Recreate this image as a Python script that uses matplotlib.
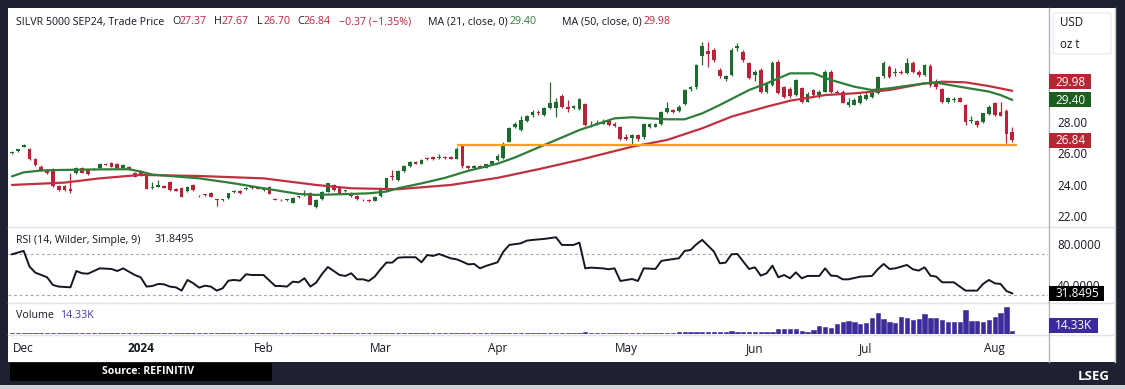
import matplotlib
matplotlib.use('Agg')
import matplotlib.pyplot as plt
from matplotlib.patches import Rectangle, FancyBboxPatch
from matplotlib.lines import Line2D
import numpy as np
import pandas as pd

plt.rcParams['font.family'] = ['Open Sans', 'DejaVu Sans']

# ---------------- data ----------------
START = '2023-11-29'
END = '2024-08-06'
HOLIDAYS = ['2023-12-25', '2024-01-01', '2024-01-15', '2024-02-19',
            '2024-03-29', '2024-05-27', '2024-06-19', '2024-07-04']

OPEN = [26.03, 26.17, 26.42, 26.26, 25.63, 25.16, 24.95, 24.99, 23.94, 23.94,
        23.72, 24.74, 25.10, 24.95, 24.97, 25.06, 25.33, 25.38, 25.33, 25.06,
        25.16, 24.74, 24.90, 24.64, 23.80, 23.90, 23.96, 24.17, 23.75, 23.83,
        23.62, 24.00, 23.33, 23.40, 23.50, 23.08, 23.02, 23.15, 23.55, 23.62,
        23.75, 23.90, 23.83, 23.70, 23.90, 23.12, 23.07, 23.04, 22.88, 23.28,
        23.35, 23.50, 22.58, 23.09, 23.58, 24.00, 23.83, 23.60, 23.50, 23.30,
        23.07, 23.03, 23.00, 23.30, 23.68, 24.55, 24.32, 24.90, 25.20, 25.45,
        25.35, 25.72, 25.75, 25.70, 25.80, 25.78, 25.68, 26.45, 25.20, 25.05,
        25.20, 25.10, 25.30, 25.60, 25.70, 26.75, 27.70, 27.49, 28.08, 28.45,
        28.65, 28.45, 28.87, 28.87, 29.67, 28.97, 28.87, 28.80, 29.14, 27.78,
        27.85, 27.90, 28.08, 27.90, 27.70, 27.07, 26.96, 27.17, 27.03, 27.70,
        27.70, 27.87, 28.65, 28.76, 28.72, 29.14, 30.07, 30.20, 32.19, 32.50,
        32.60, 31.30, 30.70, 30.98, 32.68, 32.47, 31.72, 30.98, 31.30, 29.93,
        30.35, 31.83, 30.24, 30.10, 29.72, 30.14, 29.30, 30.03, 29.70, 29.93,
        31.20, 29.93, 29.93, 29.10, 29.10, 29.20, 29.45, 29.60, 29.82, 30.90,
        31.50, 31.10, 31.20, 31.13, 31.77, 31.20, 31.00, 31.55, 30.55, 30.07,
        29.30, 29.40, 29.50, 29.08, 28.05, 28.08, 28.02, 28.50, 29.23, 28.66,
        28.72, 27.37]

HIGH = [26.15, 26.30, 26.60, 26.32, 25.70, 25.25, 25.02, 25.05, 24.00, 24.02,
        24.74, 25.12, 25.15, 25.00, 25.10, 25.38, 25.40, 25.45, 25.38, 25.32,
        25.22, 24.80, 24.95, 24.68, 24.21, 24.30, 24.02, 24.22, 23.80, 23.88,
        23.95, 24.05, 23.38, 23.45, 23.55, 23.12, 23.12, 23.50, 23.70, 23.66,
        23.86, 23.95, 23.88, 23.85, 23.95, 23.16, 23.12, 23.10, 23.22, 23.32,
        23.70, 23.55, 23.08, 23.62, 24.14, 24.05, 23.88, 23.70, 23.55, 23.34,
        23.12, 23.10, 23.30, 23.83, 24.46, 24.95, 24.95, 25.25, 25.50, 25.52,
        25.65, 25.80, 25.82, 25.95, 25.86, 25.84, 26.40, 26.55, 25.26, 25.25,
        25.25, 25.35, 25.55, 25.95, 26.70, 27.65, 28.00, 28.40, 28.45, 28.75,
        28.75, 28.95, 30.56, 29.50, 29.80, 29.40, 29.05, 29.50, 29.20, 28.05,
        28.10, 28.20, 28.20, 28.00, 27.75, 27.25, 27.25, 27.25, 27.95, 27.95,
        27.95, 28.70, 29.25, 28.85, 29.05, 30.10, 30.30, 31.70, 33.10, 33.10,
        32.70, 31.40, 31.00, 32.70, 33.00, 32.60, 31.80, 31.30, 31.40, 30.50,
        31.85, 31.95, 30.30, 30.20, 30.70, 30.20, 29.90, 30.10, 30.00, 31.30,
        31.30, 30.00, 30.00, 29.50, 29.50, 29.75, 29.90, 29.95, 30.95, 31.90,
        31.60, 31.40, 31.30, 32.05, 31.85, 31.30, 31.70, 31.70, 30.70, 30.15,
        29.60, 29.60, 29.58, 29.15, 28.40, 28.15, 28.60, 29.05, 29.30, 29.30,
        28.80, 27.67]

LOW = [25.98, 26.12, 26.38, 25.60, 25.22, 24.90, 24.70, 23.90, 23.62, 23.64,
       23.47, 24.70, 24.74, 24.66, 24.92, 25.02, 25.24, 25.12, 25.02, 25.02,
       24.95, 24.50, 24.60, 23.72, 23.75, 23.86, 23.80, 23.64, 23.60, 23.22,
       23.58, 23.64, 23.24, 23.30, 23.22, 22.67, 22.98, 23.10, 23.50, 23.43,
       23.70, 23.75, 23.72, 23.62, 23.40, 23.02, 22.97, 22.98, 22.84, 23.18,
       23.30, 22.70, 22.54, 23.05, 23.54, 23.64, 23.40, 23.55, 23.26, 23.05,
       22.98, 22.90, 22.96, 23.26, 23.64, 24.30, 24.28, 24.85, 25.15, 25.30,
       25.30, 25.60, 25.60, 25.65, 25.66, 25.62, 25.64, 25.10, 25.00, 25.00,
       25.05, 25.06, 25.25, 25.55, 25.65, 26.70, 27.60, 27.40, 28.00, 28.30,
       28.45, 28.40, 28.80, 28.30, 28.90, 28.65, 28.80, 28.75, 27.75, 27.65,
       27.80, 27.85, 27.75, 27.70, 26.85, 26.85, 26.60, 26.80, 26.95, 27.60,
       27.65, 27.80, 28.55, 28.60, 28.65, 29.10, 29.95, 30.10, 31.60, 31.50,
       31.80, 30.80, 30.60, 30.90, 32.50, 31.80, 30.70, 30.60, 29.85, 29.85,
       30.30, 29.75, 29.55, 29.55, 29.65, 29.20, 29.25, 29.65, 29.50, 29.90,
       29.85, 29.80, 29.20, 28.95, 29.05, 29.15, 29.40, 29.55, 29.78, 30.80,
       30.80, 30.90, 31.05, 31.05, 31.10, 30.85, 30.90, 30.25, 30.10, 29.20,
       29.20, 29.30, 29.25, 27.80, 27.95, 27.65, 27.95, 28.45, 28.40, 28.35,
       26.65, 26.70]

CLOSE = [26.12, 26.27, 26.55, 25.63, 25.27, 24.95, 24.74, 23.96, 23.68, 23.68,
         23.62, 25.06, 24.78, 24.70, 25.01, 25.33, 25.28, 25.16, 25.06, 25.27,
         24.99, 24.53, 24.64, 23.75, 23.86, 24.00, 23.83, 23.68, 23.64, 23.26,
         23.90, 23.68, 23.28, 23.35, 23.26, 23.02, 23.08, 23.47, 23.60, 23.47,
         23.82, 23.79, 23.75, 23.75, 23.43, 23.07, 23.02, 23.06, 23.19, 23.22,
         23.40, 22.73, 23.05, 23.58, 24.10, 23.68, 23.43, 23.64, 23.30, 23.09,
         23.02, 22.98, 23.26, 23.79, 24.42, 24.50, 24.91, 25.20, 25.45, 25.35,
         25.60, 25.66, 25.65, 25.80, 25.72, 25.68, 26.30, 25.20, 25.05, 25.20,
         25.10, 25.30, 25.50, 25.85, 26.60, 27.60, 27.90, 28.13, 28.38, 28.65,
         28.55, 28.87, 29.23, 29.29, 28.97, 28.82, 29.00, 29.44, 27.81, 27.82,
         27.92, 27.97, 27.81, 27.75, 26.90, 26.94, 27.17, 26.90, 27.90, 27.88,
         27.90, 28.65, 28.87, 28.65, 28.97, 30.03, 30.20, 31.60, 32.83, 32.30,
         31.94, 30.90, 30.90, 32.57, 32.83, 31.94, 30.77, 31.20, 29.93, 30.45,
         31.77, 29.82, 29.61, 29.65, 30.67, 29.29, 29.80, 29.71, 29.90, 31.20,
         29.93, 29.85, 29.23, 29.30, 29.40, 29.65, 29.70, 29.82, 30.88, 31.77,
         30.88, 31.20, 31.10, 31.77, 31.20, 30.98, 31.60, 30.35, 30.24, 29.29,
         29.50, 29.45, 29.30, 28.02, 28.10, 27.80, 28.55, 28.97, 28.45, 28.38,
         27.21, 26.84]

# volume in thousands of contracts
VOLUME = [3.6, 3.4, 3.8, 4.0, 3.7, 3.9, 3.6, 4.2, 4.0, 3.8, 4.3, 4.4, 3.9, 3.7, 3.6, 3.5, 3.3, 3.4, 3.2, 3.4, 3.6,
          3.7, 3.9, 4.2, 4.0, 3.8, 3.9, 4.1, 4.0, 4.3, 3.9, 4.0, 4.2, 4.1, 4.4, 4.3, 4.0, 3.9, 4.1, 4.2, 4.0, 4.1,
          4.2, 4.0, 4.3, 4.5, 4.2, 4.1, 4.4, 4.3, 4.6, 4.8, 4.5, 4.4, 4.7, 4.6, 4.4, 4.3, 4.5, 4.6, 4.4, 4.5, 4.7,
          4.9, 5.2, 5.0, 5.3, 5.1, 4.9, 4.8, 5.0, 5.2, 4.9, 4.8, 5.0, 5.1, 5.3, 5.6, 5.0, 4.9, 4.8, 5.0, 5.2, 5.4,
          5.6, 5.9, 5.7, 5.8, 5.5, 5.4, 5.6, 5.8, 6.3, 6.1, 5.9, 5.7, 5.6, 5.8, 6.5, 5.9, 5.8, 5.7, 5.9, 5.8, 6.1,
          5.4, 5.6, 5.5, 5.8, 5.7, 5.9, 6.0, 6.2, 5.9, 6.4, 6.6, 6.8, 6.4, 6.9, 7.4, 7.0, 6.8, 7.6, 11.0, 7.5, 7.8,
          7.8, 8.0, 8.2, 8.4, 9.0, 23.0, 20.0, 20.0, 20.0, 14.0, 10.0, 17.0, 34.0, 31.0, 24.0, 43.0, 49.0, 54.0,
          49.0, 43.0, 46.0, 66.0, 89.0, 63.0, 52.0, 46.0, 72.0, 67.0, 60.0, 64.0, 86.0, 67.0, 67.0, 60.0, 50.0,
          49.0, 49.0, 103.0, 57.0, 57.0, 53.0, 60.0, 72.0, 89.0, 115.0, 14.33]

# moving averages at selected bars (bar index, value)
MA21_IDX = [0, 2, 5, 8, 15, 20, 22, 24, 27, 32, 38, 43, 49, 52, 58, 61, 64, 66, 70, 74, 78, 83, 86,
            91, 97, 103, 106, 112, 115, 118, 121, 126, 129, 133, 137, 140, 144, 147, 150, 156, 158,
            162, 167, 169, 171]
MA21_VAL = [24.55, 24.80, 24.92, 24.95, 24.99, 25.00, 24.85, 24.66, 24.57, 24.42, 24.10, 23.79, 23.43,
            23.37, 23.43, 23.47, 23.58, 23.79, 24.10, 24.45, 24.90, 25.35, 25.75, 26.54, 27.49, 28.23,
            28.30, 28.17, 28.17, 28.55, 29.08, 30.03, 30.45, 31.09, 31.09, 30.67, 30.24, 30.03, 30.14,
            30.45, 30.50, 30.24, 29.93, 29.71, 29.40]
MA50_IDX = [0, 9, 15, 22, 32, 43, 52, 58, 66, 75, 83, 90, 97, 106, 112, 118, 123, 129, 133, 139, 144,
            150, 156, 159, 163, 167, 171]
MA50_VAL = [24.00, 24.15, 24.42, 24.64, 24.57, 24.42, 24.00, 23.79, 23.73, 24.00, 24.45, 25.00, 25.59,
            26.43, 26.86, 27.60, 28.34, 28.97, 29.35, 29.71, 29.82, 30.03, 30.45, 30.56, 30.52, 30.28,
            29.98]

RSI_IDX = [0, 2, 3, 4, 6, 7, 8, 10, 11, 12, 13, 15, 17, 18, 19, 21, 22, 23, 24, 25, 26, 27, 28, 29,
           30, 31, 32, 33, 34, 35, 36, 37, 38, 39, 40, 41, 43, 45, 46, 47, 48, 49, 50, 51, 52, 53,
           54, 55, 56, 57, 58, 59, 60, 61, 62, 63, 64, 65, 66, 67, 69, 70, 71, 72, 73, 75, 76, 77,
           78, 79, 80, 81, 83, 84, 85, 87, 88, 89, 91, 93, 94, 96, 97, 98, 99, 101, 102, 103, 104,
           106, 107, 108, 110, 111, 112, 114, 115, 116, 117, 118, 120, 121, 122, 123, 124, 126, 127,
           128, 129, 130, 131, 132, 133, 134, 135, 136, 138, 139, 140, 141, 142, 143, 145, 147, 148,
           149, 150, 151, 153, 154, 155, 156, 157, 158, 159, 161, 163, 165, 166, 167, 168, 169, 170,
           171]
RSI_VAL = [70.0, 73.3, 58.0, 52.1, 47.6, 40.1, 38.5, 37.8, 53.7, 51.5, 51.1, 56.3, 55.7, 53.7, 56.3,
           49.8, 47.6, 38.5, 39.1, 41.1, 40.7, 38.5, 37.8, 34.6, 45.0, 41.7, 37.5, 39.4, 38.5, 34.6,
           36.8, 44.3, 45.0, 44.3, 50.5, 49.8, 49.8, 39.1, 39.1, 38.5, 43.3, 42.7, 46.6, 38.5, 42.4,
           50.8, 57.6, 53.7, 49.8, 48.9, 51.5, 45.6, 45.6, 44.0, 48.2, 55.4, 61.9, 61.9, 66.7, 67.1,
           67.1, 62.2, 69.3, 68.4, 70.3, 66.1, 65.1, 62.8, 60.2, 60.6, 56.3, 58.6, 62.2, 72.6, 79.1,
           80.7, 83.3, 84.0, 85.0, 86.6, 79.1, 79.1, 81.4, 56.3, 57.0, 56.3, 55.4, 56.3, 44.0, 45.9,
           44.0, 56.3, 55.7, 63.5, 64.5, 66.1, 73.3, 74.2, 79.8, 84.0, 72.6, 61.2, 61.9, 70.0, 70.3,
           55.7, 57.3, 49.2, 51.5, 58.9, 47.6, 49.8, 46.6, 52.4, 46.6, 48.9, 48.9, 56.3, 49.2, 48.9,
           45.6, 45.6, 48.2, 48.9, 55.4, 60.6, 55.7, 56.3, 59.6, 55.4, 54.1, 57.3, 49.2, 48.2, 42.7,
           42.7, 34.6, 34.6, 41.1, 45.0, 41.7, 41.1, 34.2, 31.8495]

SUPPORT_LEVEL = 26.55
SUPPORT_FROM = 76
SUPPORT_TO = 171.8

PRICE_TICKS = [22, 24, 26, 28]
RSI_TICKS = [40, 80]

# ---------------- styling ----------------
W, H = 1125, 389
BG_DARK = '#1e2130'
TXT = '#131722'
UP = '#1e6b2e'
DN = '#b8233a'
MA21_C = '#2f7d3a'
MA50_C = '#c0313f'
ORANGE = '#f6a11a'
VOL_C = '#3b2b9b'
SEP = '#e0e3eb'

fig = plt.figure(figsize=(W / 100, H / 100), dpi=100)
fig.patch.set_facecolor(BG_DARK)


def fx(px):
    return px / W


def fy(py):
    return 1 - py / H


def frect(x0, y0, x1, y1, **kw):
    r = Rectangle((fx(x0), fy(y1)), (x1 - x0) / W, (y1 - y0) / H,
                  transform=fig.transFigure, **kw)
    fig.patches.append(r)
    return r


def fline(x0, y0, x1, y1, **kw):
    fig.add_artist(Line2D([fx(x0), fx(x1)], [fy(y0), fy(y1)], transform=fig.transFigure, **kw))


def ftext(x, y, s, **kw):
    kw.setdefault('va', 'center')
    kw.setdefault('ha', 'left')
    return fig.text(fx(x), fy(y), s, **kw)


# white working area
frect(8, 8, 1115, 362, facecolor='white', edgecolor='none', zorder=-2)

LEFT, RIGHT = 8, 1048
P_TOP, P_BOT = 8, 227
R_TOP, R_BOT = 227, 302
V_TOP, V_BOT = 302, 334

ax_p = fig.add_axes([fx(LEFT), fy(P_BOT), (RIGHT - LEFT) / W, (P_BOT - P_TOP) / H])
ax_r = fig.add_axes([fx(LEFT), fy(R_BOT), (RIGHT - LEFT) / W, (R_BOT - R_TOP) / H], sharex=ax_p)
ax_v = fig.add_axes([fx(LEFT), fy(V_BOT), (RIGHT - LEFT) / W, (V_BOT - V_TOP) / H], sharex=ax_p)

dates = pd.bdate_range(START, END)
dates = dates[~dates.isin(pd.to_datetime(HOLIDAYS))]
n = min(len(dates), len(CLOSE))
x = np.arange(n)
o = np.array(OPEN[:n]); h = np.array(HIGH[:n]); l = np.array(LOW[:n]); c = np.array(CLOSE[:n])

for ax in (ax_p, ax_r, ax_v):
    ax.set_facecolor('none')
    for s in ax.spines.values():
        s.set_visible(False)

ax_p.set_xlim(-0.68, 177.1)

# candles
up = c >= o
cols = np.where(up, UP, DN)
ax_p.vlines(x, l, h, colors=cols, lw=0.9, zorder=2)
body_bot = np.minimum(o, c)
body_h = np.maximum(np.abs(c - o), 0.05)
ax_p.bar(x, body_h, bottom=body_bot, width=0.64, color=cols, linewidth=0, zorder=3)

ax_p.plot(MA50_IDX, MA50_VAL, color=MA50_C, lw=1.6, zorder=4, solid_capstyle='round')
ax_p.plot(MA21_IDX, MA21_VAL, color=MA21_C, lw=1.6, zorder=4, solid_capstyle='round')
ax_p.hlines(SUPPORT_LEVEL, SUPPORT_FROM, SUPPORT_TO, color=ORANGE, lw=1.6, zorder=5)

ax_p.set_ylim(21.33, 35.24)
ax_p.yaxis.tick_right()
ax_p.set_yticks(PRICE_TICKS)
ax_p.set_yticklabels([f'{t:.2f}' for t in PRICE_TICKS])
ax_p.tick_params(axis='y', length=0, pad=6.5, labelsize=8.5, labelcolor=TXT)
ax_p.tick_params(axis='x', bottom=False, labelbottom=False)

# RSI
ax_r.plot(RSI_IDX, RSI_VAL, color=TXT, lw=1.4, zorder=3)
for lvl in (70, 30):
    ax_r.axhline(lvl, color='#a3a6af', lw=0.8, linestyle=(0, (2.5, 2.5)), zorder=1)
ax_r.set_ylim(23.5, 96.6)
ax_r.yaxis.tick_right()
ax_r.set_yticks(RSI_TICKS)
ax_r.set_yticklabels([f'{t:.4f}' for t in RSI_TICKS])
ax_r.tick_params(axis='y', length=0, pad=6.5, labelsize=8.5, labelcolor=TXT)
ax_r.tick_params(axis='x', bottom=False, labelbottom=False)

# Volume
ax_v.bar(x, VOLUME[:n], width=0.74, color=VOL_C, edgecolor=VOL_C, linewidth=0.4)
ax_v.set_ylim(0, 136)
ax_v.set_yticks([])

month_idx, month_lab = [], []
prev = None
for i, d in enumerate(dates[:n]):
    key = (d.year, d.month)
    if prev is not None and key != prev:
        month_idx.append(i)
        month_lab.append(str(d.year) if d.month == 1 else d.strftime('%b'))
    prev = key
ax_v.set_xticks(month_idx)
ax_v.set_xticklabels(month_lab)
ax_v.tick_params(axis='x', length=0, pad=6, labelsize=8.5, labelcolor=TXT)
for t in ax_v.get_xticklabels():
    if t.get_text().isdigit():
        t.set_fontweight('bold')

# separators
for yy in (227.5, 302.5, 334.5):
    fline(8, yy, 1115, yy, color=SEP, lw=1.0, zorder=1)
fline(1048.5, 8, 1048.5, 362, color='#b2b5be', lw=1.0, zorder=1)
fline(1115, 8, 1115, 362, color='#c8cad0', lw=1.0, zorder=1)

# header
hy = 22
hdr = [(16, 'SILVR 5000 SEP24, Trade Price', TXT),
       (172, 'O', TXT), (179, '27.37', DN),
       (214, 'H', TXT), (221, '27.67', DN),
       (257, 'L', TXT), (263, '26.70', DN),
       (297, 'C', TXT), (304, '26.84', DN),
       (339, '\u22120.37 (\u22121.35%)', DN),
       (428, 'MA (21, close, 0)', TXT), (510, '29.40', MA21_C),
       (562, 'MA (50, close, 0)', TXT), (644, '29.98', DN)]
for xx, s, col in hdr:
    ftext(xx, hy, s, color=col, fontsize=7.7, zorder=6)

ftext(16, 240, 'RSI (14, Wilder, Simple, 9)', color=TXT, fontsize=7.7, zorder=6)
ftext(154, 240, '31.8495', color=TXT, fontsize=7.7, zorder=6)
ftext(16, 316, 'Volume', color=TXT, fontsize=7.7, zorder=6)
ftext(60, 316, '14.33K', color='#4a3aa8', fontsize=7.7, zorder=6)

# unit box
fig.patches.append(FancyBboxPatch((fx(1053), fy(54)), (1111 - 1053) / W, (54 - 13) / H,
                                  boxstyle='round,pad=0,rounding_size=0.004',
                                  transform=fig.transFigure, facecolor='white',
                                  edgecolor='#e6e8ee', lw=0.8, zorder=3))
ftext(1060, 23, 'USD', color=TXT, fontsize=8.3, zorder=6)
ftext(1060, 44, 'oz t', color=TXT, fontsize=8.3, zorder=6)


# value labels on the scales
def scale_label(yc, text, fc, x1=1091, h=15):
    frect(1049, yc - h / 2, x1, yc + h / 2, facecolor=fc, edgecolor='none', zorder=4)
    ftext(1055, yc + 0.5, text, color='white', fontsize=8.5, zorder=6)


def price_to_px(ax, v):
    disp = ax.transData.transform((0, v))
    return H - disp[1]


y_ma21 = price_to_px(ax_p, MA21_VAL[-1])
y_ma50 = min(price_to_px(ax_p, MA50_VAL[-1]), y_ma21 - 18)
scale_label(y_ma50, f'{MA50_VAL[-1]:.2f}', '#b22833')
scale_label(y_ma21, f'{MA21_VAL[-1]:.2f}', '#1b5e20')
scale_label(price_to_px(ax_p, c[-1]), f'{c[-1]:.2f}', '#b22833')

scale_label(price_to_px(ax_r, RSI_VAL[-1]), f'{RSI_VAL[-1]:.4f}', '#000000', x1=1104)
scale_label(325, '14.33K', '#3a2a9c', x1=1098)

# bottom band
frect(10, 363, 272, 381, facecolor='#000000', edgecolor='none', zorder=3)
ftext(148, 372, 'Source: REFINITIV', color='white', fontsize=7.6, fontweight='bold',
      ha='center', zorder=6)
frect(0, 385, 1125, 389, facecolor='#cfd1d6', edgecolor='none', zorder=3)
ftext(1110, 377, 'LSEG', color='white', fontsize=9.5, fontweight='bold', ha='right', zorder=6)

fig.savefig('out.png', dpi=100, facecolor=fig.get_facecolor())
